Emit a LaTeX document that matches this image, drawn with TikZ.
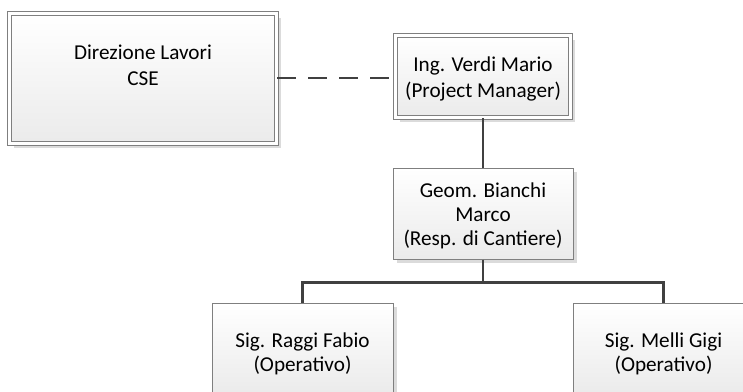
\documentclass[tikz,border=0pt]{standalone}
\usepackage{fontspec}
\setmainfont{Carlito}
\usetikzlibrary{shadows,calc}

\definecolor{linegray}{HTML}{404040}
\definecolor{boxgray}{HTML}{7F7F7F}

\tikzset{
  orgbox/.style={draw=boxgray, line width=1pt, inner sep=0pt, align=center,
    top color=white, bottom color=black!8,
    drop shadow={shadow xshift=4pt, shadow yshift=-4pt, fill=black!14, opacity=1},
    font=\fontsize{21.2}{24}\selectfont},
  doublebox/.style={orgbox, double=white, double distance=3pt,
    font=\fontsize{21.2}{26.5}\selectfont},
  opbox/.style={orgbox, text height=50pt, minimum width=181pt, minimum height=91pt},
  link/.style={draw=linegray, line width=2.3pt},
  dashlink/.style={link, dash pattern=on 19pt off 12pt}
}

\begin{document}
\begin{tikzpicture}[x=1pt, y=-1pt, line join=miter]
\useasboundingbox (0,0) rectangle (743,391);

\node[doublebox, minimum width=267pt, minimum height=130pt] (dl) at (143,78.5) {Direzione Lavori\\CSE\\\mbox{}};
\node[doublebox, text height=46pt, minimum width=175pt, minimum height=82pt] (pm) at (483,76.5) {Ing. Verdi Mario\\(Project Manager)};
\node[orgbox, text height=67pt, minimum width=180pt, minimum height=91pt] (rc) at (483,213.5) {Geom. Bianchi\\Marco\\(Resp. di Cantiere)};
\node[opbox] (op1) at (302.5,348.5) {Sig. Raggi Fabio\\(Operativo)};
\node[opbox] (op2) at (663.5,348.5) {Sig. Melli Gigi\\(Operativo)};

% collegamenti
\draw[dashlink] (dl.east |- 0,78) -- (pm.west |- 0,78);
\draw[link] (pm.south) -- (rc.north);
\coordinate (split) at ($(rc.south)+(0,23)$);
\draw[link] (rc.south) -- (split) -| (op1.north);
\draw[link] (split) -| (op2.north);

\end{tikzpicture}
\end{document}
